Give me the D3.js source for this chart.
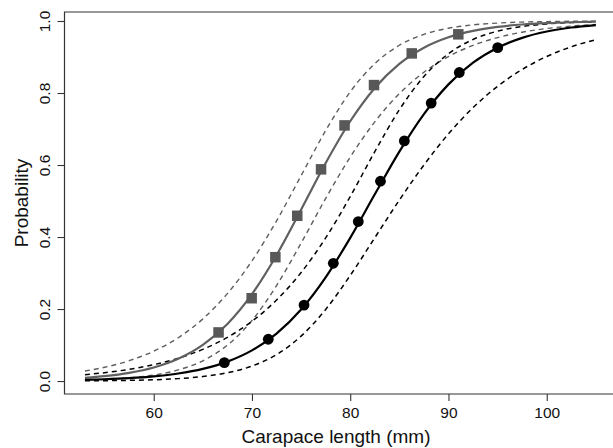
<!DOCTYPE html>
<html>
<head>
<meta charset="utf-8">
<script src="https://cdn.jsdelivr.net/npm/d3@7/dist/d3.min.js"></script>
<style>
  html, body { margin: 0; padding: 0; background: #fff; }
  svg { display: block; }
  text { font-family: "Liberation Sans", Arial, sans-serif; fill: #111; }
</style>
</head>
<body>
<svg id="chart" width="613" height="448"></svg>
<script>
// ---- data ----
const xGrid = [53, 55, 57.5, 60, 62.5, 65, 67.5, 70, 72.5, 75, 77.5, 80, 82.5, 85, 87.5, 90, 92.5, 95, 97.5, 100, 102.5, 105];

const grayFit   = [0.0089,0.0135,0.0226,0.0376,0.0619,0.1004,0.1585,0.2414,0.3495,0.4759,0.6054,0.7215,0.8140,0.8808,0.9258,0.9547,0.9727,0.9837,0.9903,0.9942,0.9966,0.9980];
const grayUpper = [0.0279,0.0382,0.0565,0.0829,0.1203,0.1727,0.2429,0.3338,0.4448,0.5703,0.6957,0.8032,0.8816,0.9326,0.9628,0.9799,0.9893,0.9943,0.9970,0.9984,0.9992,0.9996];
const grayLower = [0.0028,0.0047,0.0089,0.0166,0.0309,0.0563,0.0997,0.1681,0.2651,0.3832,0.5071,0.6220,0.7199,0.7982,0.8576,0.9012,0.9323,0.9540,0.9689,0.9791,0.9859,0.9906];

const blackFit   = [0.0033,0.0049,0.0080,0.0130,0.0210,0.0338,0.0540,0.0852,0.1318,0.1986,0.2881,0.3977,0.5186,0.6374,0.7415,0.8240,0.8842,0.9258,0.9532,0.9708,0.9819,0.9888];
const blackUpper = [0.0177,0.0232,0.0325,0.0455,0.0634,0.0879,0.1213,0.1660,0.2250,0.3013,0.3974,0.5124,0.6371,0.7536,0.8458,0.9092,0.9487,0.9718,0.9847,0.9918,0.9956,0.9977];
const blackLower = [0.0006,0.0010,0.0019,0.0036,0.0067,0.0125,0.0230,0.0417,0.0736,0.1247,0.1989,0.2932,0.3980,0.5026,0.6001,0.6865,0.7593,0.8187,0.8655,0.9014,0.9283,0.9482];

const grayPtsX = [66.6, 69.97, 72.38, 74.61, 77.03, 79.42, 82.42, 86.26, 91.0];
const grayPtsY = [0.135, 0.230, 0.344, 0.459, 0.588, 0.710, 0.822, 0.910, 0.963];
const blackPtsX = [67.19, 71.66, 75.30, 78.28, 80.82, 83.08, 85.51, 88.24, 91.10, 95.01];
const blackPtsY = [0.051, 0.116, 0.211, 0.327, 0.443, 0.555, 0.667, 0.772, 0.857, 0.926];

const xTicks = [60, 70, 80, 90, 100];
const yTicks = [0.0, 0.2, 0.4, 0.6, 0.8, 1.0];
const xTitle = "Carapace length (mm)";
const yTitle = "Probability";

// ---- layout ----
const svg = d3.select("#chart");
const pLeft = 64.5, pRight = 616.3, pTop = 12, pBottom = 394;
const x = d3.scaleLinear().domain([50.92, 107.08]).range([pLeft, pRight]);
const y = d3.scaleLinear().domain([-0.036, 1.025]).range([pBottom, pTop]);

const GRAY = "#585858";
const BLACK = "#000";

// frame
svg.append("path")
  .attr("d", `M${pRight},${pTop}H${pLeft}V${pBottom}H${pRight}`)
  .attr("fill", "none").attr("stroke", "#333").attr("stroke-width", 1.2);

// axes
const xAxis = svg.append("g").attr("transform", `translate(0,${pBottom})`)
  .call(d3.axisBottom(x).tickValues(xTicks).tickSize(7).tickPadding(6).tickFormat(d3.format("d")));
xAxis.select(".domain").remove();
xAxis.selectAll("line").attr("stroke", "#333").attr("stroke-width", 1.1);
xAxis.selectAll("text").attr("font-size", "15.5px").attr("fill", "#111")
  .attr("font-family", "Liberation Sans, Arial, sans-serif");

const yAxis = svg.append("g").attr("transform", `translate(${pLeft},0)`)
  .call(d3.axisLeft(y).tickValues(yTicks).tickSize(7).tickFormat(d3.format(".1f")));
yAxis.select(".domain").remove();
yAxis.selectAll("line").attr("stroke", "#333").attr("stroke-width", 1.1);
yAxis.selectAll("text")
  .attr("font-size", "15.5px").attr("fill", "#111")
  .attr("font-family", "Liberation Sans, Arial, sans-serif")
  .attr("text-anchor", "middle")
  .attr("x", null).attr("dy", null)
  .attr("transform", "translate(-14.5,0) rotate(-90)")
  .attr("y", 0);

// titles
svg.append("text").attr("x", 336).attr("y", 443).attr("text-anchor", "middle")
  .attr("font-size", "19px").text(xTitle);
svg.append("text").attr("transform", `translate(28,${(pTop + pBottom) / 2}) rotate(-90)`)
  .attr("text-anchor", "middle").attr("font-size", "19px").text(yTitle);

// curves
const line = d3.line().x(d => x(d[0])).y(d => y(d[1])).curve(d3.curveMonotoneX);
function draw(vals, color, width, dash) {
  svg.append("path").datum(xGrid.map((v, i) => [v, vals[i]]))
    .attr("d", line).attr("fill", "none")
    .attr("stroke", color).attr("stroke-width", width)
    .attr("stroke-dasharray", dash || null);
}
draw(grayUpper, "#5e5e5e", 1.4, "5,4");
draw(grayLower, "#5e5e5e", 1.4, "5,4");
draw(blackUpper, BLACK, 1.5, "5,4");
draw(blackLower, BLACK, 1.5, "5,4");
draw(grayFit, "#606060", 2.2);
draw(blackFit, BLACK, 2.2);

// markers
const sq = 10.5;
svg.append("g").selectAll("rect").data(grayPtsX.map((v, i) => [v, grayPtsY[i]]))
  .join("rect")
  .attr("x", d => x(d[0]) - sq / 2).attr("y", d => y(d[1]) - sq / 2)
  .attr("width", sq).attr("height", sq).attr("fill", GRAY);
svg.append("g").selectAll("circle").data(blackPtsX.map((v, i) => [v, blackPtsY[i]]))
  .join("circle")
  .attr("cx", d => x(d[0])).attr("cy", d => y(d[1])).attr("r", 5.4).attr("fill", BLACK);
</script>
</body>
</html>
